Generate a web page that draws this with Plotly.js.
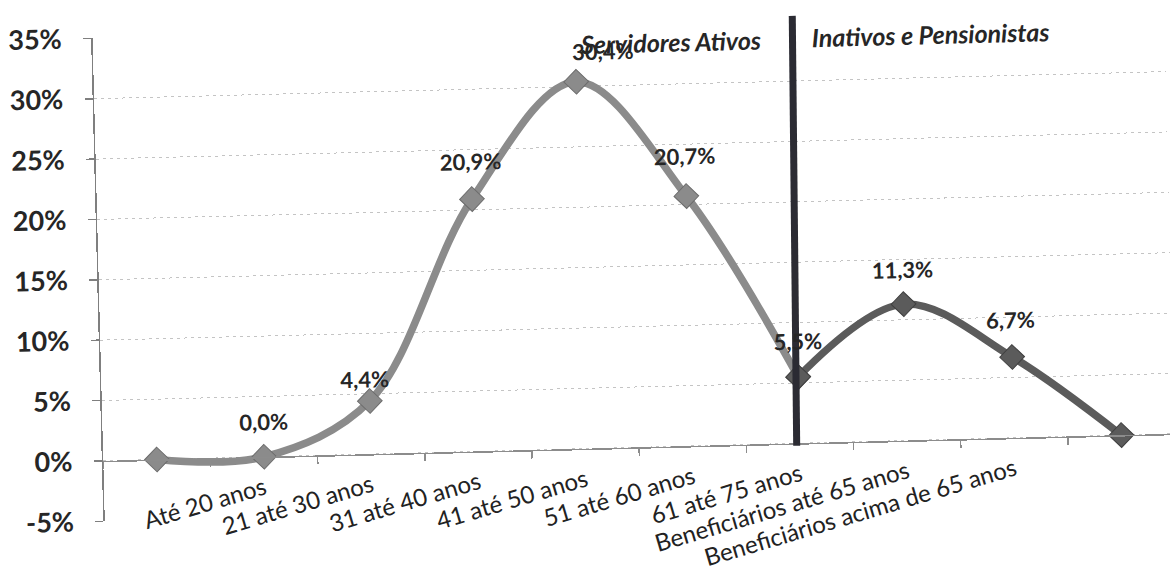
<!DOCTYPE html>
<html>
<head>
<meta charset="utf-8">
<script src="https://cdn.plot.ly/plotly-3.0.1.min.js"></script>
<style>
  html, body { margin: 0; padding: 0; background: #fff; overflow: hidden; width: 1170px; height: 571px; }
  #chart { width: 1180px; height: 571px; transform: rotate(-1.45deg); transform-origin: 585px 285.5px; }
</style>
</head>
<body>
<div id="chart"></div>
<script>
// Faixas etárias (posições 1–8); as posições 0 e 9 ficam sem rótulo
const tickLabels = ['', 'Até 20 anos', '21 até 30 anos', '31 até 40 anos', '41 até 50 anos',
  '51 até 60 anos', '61 até 75 anos', 'Beneficiários até 65 anos',
  'Beneficiários acima de 65 anos', ''];

// Participação (%) em cada posição do eixo
const percentuais = [0, 0.0, 4.4, 20.9, 30.4, 20.7, 5.5, 11.3, 6.7, 0];

// Posição onde termina o grupo de servidores ativos
const divisao = 6;

// Marcas do eixo vertical
const yTicks = [-5, 0, 5, 10, 15, 20, 25, 30, 35];

// Deslocamento (px) de cada rótulo de valor em relação ao marcador
const labelShift = [null, [1, 35], [-5, 22], [-1, 38], [27, 30], [-1, 40], [1, 36], [-1, 35], [-1, 37], null];

const posicoes = percentuais.map((_, i) => i);
const yMin = yTicks[0], yMax = yTicks[yTicks.length - 1];
const fmt = v => v.toFixed(1).replace('.', ',') + '%';
const font = 'Lato, "Open Sans", sans-serif';

const ativosX = posicoes.slice(0, divisao + 1);
const ativosY = percentuais.slice(0, divisao + 1);
const inativosX = posicoes.slice(divisao);
const inativosY = percentuais.slice(divisao);

function serie(x, y, cor, borda) {
  return {
    x: x, y: y, type: 'scatter', mode: 'lines+markers',
    line: { shape: 'spline', smoothing: 1, color: cor, width: 7.5 },
    marker: { symbol: 'diamond', size: 19, color: cor, line: { color: borda, width: 1 } },
    hoverinfo: 'skip', showlegend: false, cliponaxis: false
  };
}

const traces = [
  serie(ativosX, ativosY, '#8b8b8b', '#6c6c6c'),
  serie(inativosX, inativosY, '#5b5b5b', '#404040')
];

const annotations = [];
posicoes.forEach(i => {
  if (!tickLabels[i]) return;
  annotations.push({
    x: i, y: percentuais[i], xref: 'x', yref: 'y', showarrow: false,
    text: fmt(percentuais[i]),
    xshift: labelShift[i][0], yshift: labelShift[i][1],
    font: { family: font, size: 22, color: '#262626', weight: 'bold' }
  });
});
annotations.push({
  x: 5.75, y: 33.5, xref: 'x', yref: 'y', showarrow: false, xanchor: 'right',
  text: 'Servidores Ativos',
  font: { family: font, size: 25, color: '#262626', weight: 'bold', style: 'italic' }
});
annotations.push({
  x: 6.19, y: 33.6, xref: 'x', yref: 'y', showarrow: false, xanchor: 'left',
  text: 'Inativos e Pensionistas',
  font: { family: font, size: 25, color: '#262626', weight: 'bold', style: 'italic' }
});

const toPaper = v => (v - yMin) / (yMax - yMin);

const layout = {
  width: 1180, height: 571,
  margin: { l: 98.5, r: 8.5, t: 25.6, b: 62.2, pad: 0 },
  paper_bgcolor: '#ffffff', plot_bgcolor: '#ffffff',
  font: { family: font, color: '#262626' },
  xaxis: {
    type: 'linear', range: [-0.5, posicoes.length - 0.5],
    anchor: 'free', position: toPaper(0),
    showline: true, linecolor: '#8c8c8c', linewidth: 1.5,
    tickmode: 'array',
    tickvals: posicoes.filter(i => tickLabels[i]),
    ticktext: tickLabels.filter(t => t),
    ticks: '', tickangle: -15, ticklabelstandoff: 7,
    tickfont: { family: font, size: 24, color: '#222222' },
    showgrid: false, zeroline: false, automargin: false,
    minor: { tick0: -0.5, dtick: 1, ticks: 'outside', ticklen: 7, tickcolor: '#8c8c8c', tickwidth: 1.5, showgrid: false }
  },
  yaxis: {
    range: [yMin, yMax], tickmode: 'array',
    tickvals: yTicks, ticktext: yTicks.map(v => v + '%'),
    showline: true, linecolor: '#7f7f7f', linewidth: 1.5,
    ticks: 'outside', ticklen: 8, tickcolor: '#7f7f7f', tickwidth: 1.5,
    ticklabelstandoff: 16,
    tickfont: { family: font, size: 27, color: '#262626', weight: 'bold' },
    showgrid: true, gridcolor: '#c4c4c4', gridwidth: 1, griddash: '3px,4px',
    zeroline: false, automargin: false
  },
  shapes: [{
    type: 'line', xref: 'x', yref: 'paper',
    x0: divisao + 0.03, y0: toPaper(35.4),
    x1: divisao - 0.03, y1: toPaper(-0.2),
    line: { color: '#2b2b33', width: 7 }
  }],
  annotations: annotations
};

Plotly.newPlot('chart', traces, layout, { staticPlot: true, displayModeBar: false });
</script>
</body>
</html>
